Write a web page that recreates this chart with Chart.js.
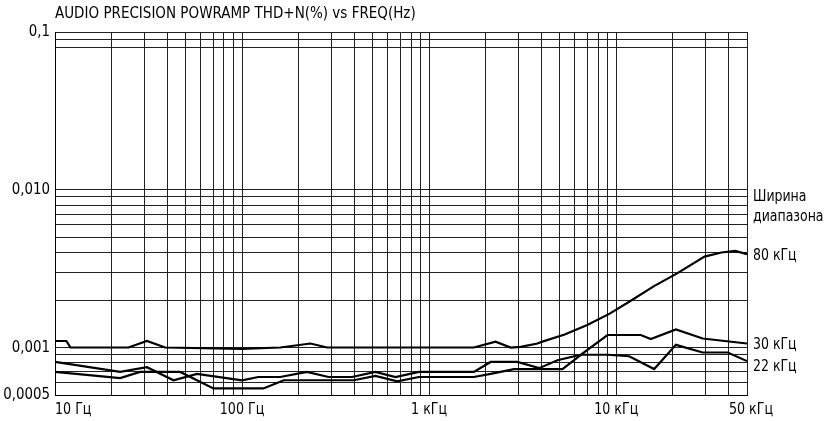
<!DOCTYPE html>
<html>
<head>
<meta charset="utf-8">
<script src="https://cdn.jsdelivr.net/npm/chart.js@4/dist/chart.umd.min.js"></script>
<style>
  html, body { margin: 0; padding: 0; background: #fff; }
</style>
</head>
<body>
<canvas id="thdChart" width="829" height="421"></canvas>
<script>
const titleText = "AUDIO PRECISION POWRAMP THD+N(%) vs FREQ(Hz)";

// 80 kHz bandwidth
const freq80 = [10, 11.5, 12.1, 24.7, 31, 38.8, 100, 160, 232, 285, 900, 1734, 2265, 2728, 3085, 3790, 4030,
  5300, 7000, 9230, 12140, 16000, 21040, 29650, 36500, 43200, 50000];
const thd80 = [0.0011, 0.0011, 0.001, 0.001, 0.0011, 0.001, 0.00098, 0.001, 0.00106, 0.001, 0.001, 0.001, 0.00109,
  0.001, 0.00101, 0.00106, 0.00109, 0.00121, 0.00139, 0.00164, 0.002, 0.00246, 0.00294, 0.00377, 0.004, 0.0041, 0.0039];

// 30 kHz bandwidth
const freq30 = [10, 22.3, 28.5, 46.7, 70.3, 130, 167, 395, 516, 675, 881, 1734, 2130, 2840, 5160, 6730, 8980,
  13520, 15300, 20850, 28970, 50000];
const thd30 = [0.0007, 0.00064, 0.0007, 0.0007, 0.00055, 0.00055, 0.00062, 0.00062, 0.00066, 0.00061, 0.00065,
  0.00065, 0.00068, 0.00073, 0.00073, 0.00093, 0.0012, 0.0012, 0.00113, 0.0013, 0.00114, 0.00106];

// 22 kHz bandwidth
const freq22 = [10, 22.3, 31, 43, 57.4, 100, 122, 160, 222, 290, 387, 516, 661, 881, 1734, 2130, 2960, 3870,
  4850, 6460, 8980, 11720, 15950, 20850, 28970, 39450, 50000];
const thd22 = [0.00081, 0.0007, 0.00075, 0.00062, 0.00068, 0.00062, 0.00065, 0.00065, 0.0007, 0.00065, 0.00065,
  0.0007, 0.00065, 0.0007, 0.0007, 0.00081, 0.00081, 0.00074, 0.00083, 0.0009, 0.0009, 0.00088, 0.00073, 0.00104,
  0.00093, 0.00093, 0.00082];

const xGrid = [10, 20, 30, 40, 50, 60, 70, 80, 90,
  100, 200, 300, 400, 500, 600, 700, 800, 900,
  1000, 2000, 3000, 4000, 5000, 6000, 7000, 8000, 9000,
  10000, 20000, 30000, 40000, 50000];
const xLabels = [
  { v: 10, text: "10 Гц" },
  { v: 100, text: "100 Гц" },
  { v: 1000, text: "1 кГц" },
  { v: 10000, text: "10 кГц" },
  { v: 50000, text: "50 кГц" }
];

const yGrid = [0.0005, 0.0006, 0.0007, 0.0008, 0.0009, 0.001,
  0.002, 0.003, 0.004, 0.005, 0.006, 0.007, 0.008, 0.009, 0.01,
  0.08, 0.09, 0.1];
const yLabels = [
  { v: 0.1, text: "0,1" },
  { v: 0.01, text: "0,010" },
  { v: 0.001, text: "0,001" },
  { v: 0.0005, text: "0,0005" }
];

const sideLabels = [
  { y: 197, text: "Ширина" },
  { y: 217, text: "диапазона" },
  { y: 256, text: "80 кГц" },
  { y: 345, text: "30 кГц" },
  { y: 367, text: "22 кГц" }
];

const FONT = '"Liberation Sans Narrow", "Arial Narrow", "DejaVu Sans Condensed", sans-serif';

function toPoints(xs, ys) {
  return xs.map((x, i) => ({ x, y: ys[i] }));
}

function lineSet(xs, ys) {
  return {
    data: toPoints(xs, ys),
    borderColor: "#000",
    borderWidth: 2.2,
    pointRadius: 0,
    tension: 0,
    fill: false
  };
}

// squeezed text, the scan uses a condensed face
function narrowText(ctx, text, x, y, align, squeeze) {
  const w = ctx.measureText(text).width * squeeze;
  let left = x;
  if (align === "center") left = x - w / 2;
  if (align === "right") left = x - w;
  ctx.save();
  ctx.translate(left, y);
  ctx.scale(squeeze, 1);
  ctx.textAlign = "left";
  ctx.fillText(text, 0, 0);
  ctx.restore();
}

// title, axis labels and the labels at the right edge
const textPlugin = {
  id: "textPlugin",
  afterDraw(chart) {
    const ctx = chart.ctx;
    const xs = chart.scales.x;
    const ys = chart.scales.y;
    const area = chart.chartArea;
    ctx.save();
    ctx.fillStyle = "#000";
    ctx.textBaseline = "middle";

    ctx.font = "15px " + FONT;
    ctx.textAlign = "left";
    ctx.fillText(titleText, area.left, 14);

    ctx.font = "16px " + FONT;
    yLabels.forEach(l => {
      narrowText(ctx, l.text, area.left - 5, ys.getPixelForValue(l.v), "right", 0.93);
    });

    xLabels.forEach((l, i) => {
      const px = xs.getPixelForValue(l.v);
      if (i === 0) {
        narrowText(ctx, l.text, px, 410, "left", 0.88);
      } else {
        narrowText(ctx, l.text, i === xLabels.length - 1 ? px + 4 : px, 410, "center", 0.88);
      }
    });

    sideLabels.forEach(l => {
      narrowText(ctx, l.text, area.right + 6, l.y, "left", 0.87);
    });
    ctx.restore();
  }
};

new Chart(document.getElementById("thdChart"), {
  type: "line",
  data: {
    datasets: [
      lineSet(freq80, thd80),
      lineSet(freq30, thd30),
      lineSet(freq22, thd22)
    ]
  },
  options: {
    responsive: false,
    animation: false,
    layout: { padding: { top: 32, right: 82, bottom: 0, left: 0 } },
    plugins: {
      legend: { display: false },
      tooltip: { enabled: false }
    },
    scales: {
      x: {
        type: "logarithmic",
        min: 10,
        max: 50000,
        afterBuildTicks: s => { s.ticks = xGrid.map(v => ({ value: v })); },
        afterFit: s => { s.height = 26; },
        ticks: { display: false },
        grid: { color: "#222", lineWidth: 1, drawTicks: false },
        border: { display: true, color: "#000", width: 1 }
      },
      y: {
        type: "logarithmic",
        min: 0.0005,
        max: 0.1,
        afterBuildTicks: s => { s.ticks = yGrid.map(v => ({ value: v })); },
        afterFit: s => { s.width = 55; },
        ticks: { display: false },
        grid: { color: "#222", lineWidth: 1, drawTicks: false },
        border: { display: true, color: "#000", width: 1 }
      }
    }
  },
  plugins: [textPlugin]
});
</script>
</body>
</html>
